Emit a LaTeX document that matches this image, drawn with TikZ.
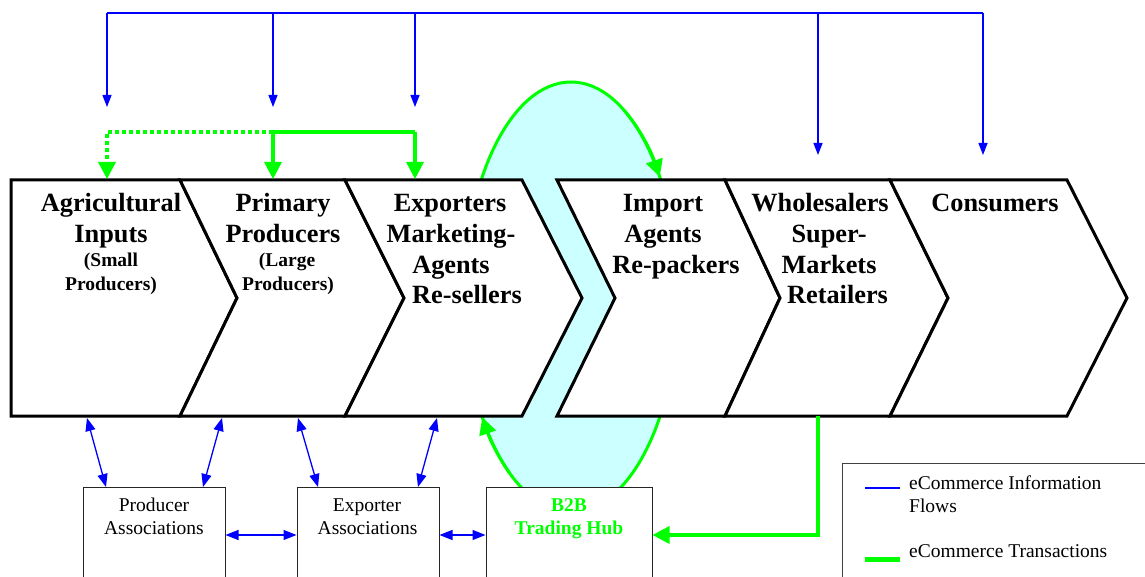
\documentclass[tikz,border=0pt]{standalone}
\usepackage{fontspec}
\setmainfont{Liberation Serif}
\usetikzlibrary{arrows.meta,calc}
\definecolor{gr}{RGB}{0,255,0}
\definecolor{bl}{RGB}{0,0,255}
\definecolor{cy}{RGB}{204,255,255}
\tikzset{
  chev/.style={draw=black, line width=3pt, fill=white, line join=miter},
  info/.style={draw=bl, line width=1.3pt},
  infoarr/.style={info, -{Triangle[length=12pt,width=9pt]}},
  bidir/.style={info, {Triangle[length=13pt,width=10pt]}-{Triangle[length=13pt,width=10pt]}},
  trans/.style={draw=gr, line width=3.5pt},
  transarr/.style={trans, -{Triangle[length=17pt,width=17pt]}},
  dotted trans/.style={trans, dash pattern=on 4pt off 3pt},
  big/.style={font=\bfseries\fontsize{26.3}{31}\selectfont, inner sep=0pt, anchor=base},
  small/.style={font=\bfseries\fontsize{19.5}{24}\selectfont, inner sep=0pt, anchor=base},
  boxtxt/.style={font=\fontsize{19.5}{23}\selectfont, inner sep=0pt, anchor=base},
  hubtxt/.style={font=\bfseries\fontsize{19.5}{23}\selectfont, text=gr, inner sep=0pt, anchor=base},
  legtxt/.style={font=\fontsize{19.5}{23}\selectfont, inner sep=0pt, anchor=base west},
  abox/.style={draw=black!85, line width=1pt, fill=white, minimum width=142pt, minimum height=110pt, anchor=north, inner sep=0pt},
}
\begin{document}
\begin{tikzpicture}[x=1pt,y=-1pt]
\clip (0,0) rectangle (1145,577);
\fill[white] (0,0) rectangle (1145,577);

% B2B loop (ellipse)
\coordinate (el) at (571,297);
\draw[trans, line width=3pt, fill=cy] (el) ellipse [x radius=107, y radius=215];

% chevrons
\draw[chev] (11,180) -- (180,180) -- (237,298) -- (180,416) -- (11,416) -- cycle;
\draw[chev] (180,180) -- (345,180) -- (404,298) -- (345,416) -- (180,416) -- (237,298) -- cycle;
\draw[chev] (345,180) -- (522,180) -- (582,298) -- (522,416) -- (345,416) -- (404,298) -- cycle;
\draw[chev] (557,180) -- (725,180) -- (780,298) -- (725,416) -- (557,416) -- (615,298) -- cycle;
\draw[chev] (725,180) -- (890,180) -- (948,298) -- (890,416) -- (725,416) -- (780,298) -- cycle;
\draw[chev] (890,180) -- (1067,180) -- (1127,298) -- (1067,416) -- (890,416) -- (948,298) -- cycle;

% chevron texts
\node[big] (a1) at (111,212) {Agricultural};
\node[big] (a2) at (111,242.5) {Inputs};
\node[small] (a3) at (111,266.5) {(Small};
\node[small] (a4) at (111,290.5) {Producers)};

\node[big] (b1) at (283,212) {Primary};
\node[big] (b2) at (283,242.5) {Producers};
\node[small] (b3) at (287,266.5) {(Large};
\node[small] (b4) at (288,290.5) {Producers)};

\node[big] (e1) at (450,212) {Exporters};
\node[big] (e2) at (451,242.5) {Marketing-};
\node[big] (e3) at (451,273) {Agents};
\node[big] (e4) at (467,303.5) {Re-sellers};

\node[big] (i1) at (663,212) {Import};
\node[big] (i2) at (663,242.5) {Agents};
\node[big] (i3) at (676,273) {Re-packers};

\node[big] (w1) at (820,212) {Wholesalers};
\node[big] (w2) at (829,242.5) {Super-};
\node[big] (w3) at (829,273) {Markets};
\node[big] (w4) at (837.5,303.5) {Retailers};

\node[big] (k1) at (995,212) {Consumers};

% bottom boxes
\node[abox] (pa) at (154,487) {};
\node[abox] (ea) at (368,487) {};
\node[abox, minimum width=166pt] (hub) at (569,487) {};
\node[boxtxt] (pat1) at (154,511) {Producer};
\node[boxtxt] (pat2) at (154,534.5) {Associations};
\node[boxtxt] (eat1) at (367,511) {Exporter};
\node[boxtxt] (eat2) at (367.5,534.5) {Associations};
\node[hubtxt] (hub1) at (569,511) {B2B};
\node[hubtxt] (hub2) at (569,534.5) {Trading Hub};

% loop arrowheads
\draw[transarr, line width=3pt] (el) ++(300:107 and 215) arc[start angle=300, end angle=326, x radius=107, y radius=215];
\draw[transarr, line width=3pt] (el) ++(125:107 and 215) arc[start angle=125, end angle=146, x radius=107, y radius=215];

% top information flows
\coordinate (t1) at (107,13);
\coordinate (t2) at (273,13);
\coordinate (t3) at (415,13);
\coordinate (t4) at (818,13);
\coordinate (t5) at (983,13);
\draw[info] (t1) -- (t5);
\draw[infoarr] (t1) -- (107,107);
\draw[infoarr] (t2) -- (273,107);
\draw[infoarr] (t3) -- (415,107);
\draw[infoarr] (t4) -- (818,155);
\draw[infoarr] (t5) -- (983,155);

% top transactions bracket
\coordinate (g1) at (107,132);
\coordinate (g2) at (273,132);
\coordinate (g3) at (415,132);
\draw[dotted trans] (g2) -- (g1) -- (107,170);
\draw[transarr] (107,164) -- (107,179);
\draw[trans] (g2) -- (g3);
\draw[transarr] (g2) -- (273,179);
\draw[transarr] (g3) -- (415,179);

% bottom information flows
\draw[bidir] (87,418) -- (106,487);
\draw[bidir] (222,418) -- (203,487);
\draw[bidir] (298,418) -- (318,487);
\draw[bidir] (437,418) -- (418,487);
\draw[bidir] (pa.east |- 0,535) -- (ea.west |- 0,535);
\draw[bidir] (ea.east |- 0,535) -- (hub.west |- 0,535);

% wholesalers to hub
\coordinate (ws) at (818,416);
\draw[transarr] (ws) -- (818,535) -- (hub.east |- 0,535);

% legend
\draw[draw=black!75, line width=1pt] (842,463) rectangle (1170,600);
\draw[info] (865,488) -- (900,488);
\draw[trans, line width=5pt] (865,559) -- (900,559);
\node[legtxt] (l1) at (909,489) {eCommerce Information};
\node[legtxt] (l2) at (909,512) {Flows};
\node[legtxt] (l3) at (909,557) {eCommerce Transactions};
\end{tikzpicture}
\end{document}
